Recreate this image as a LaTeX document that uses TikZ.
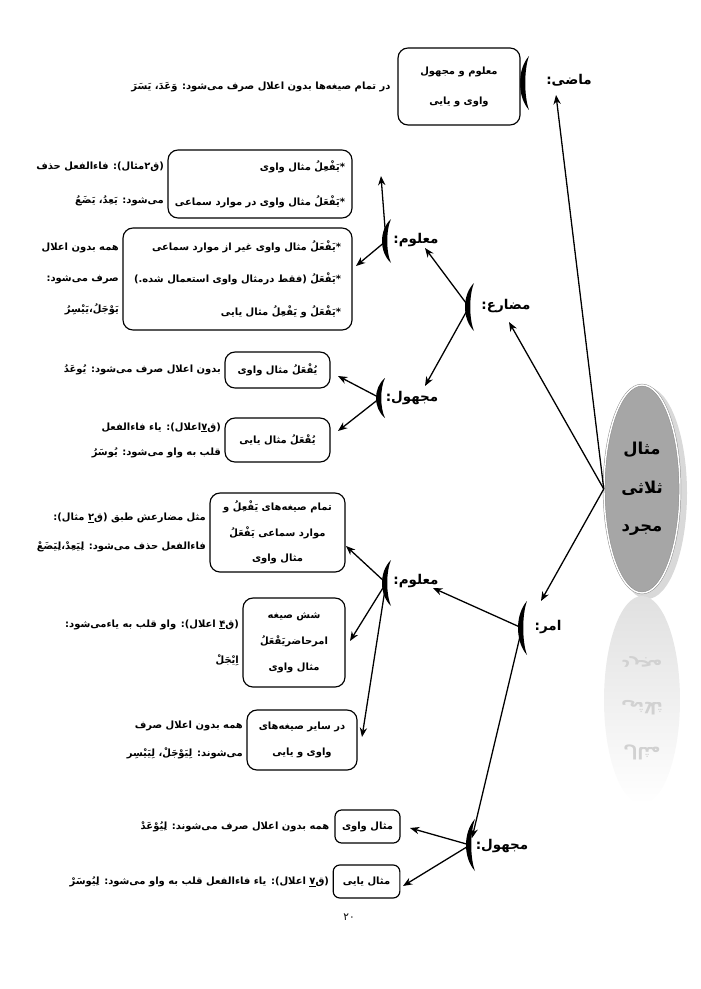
\documentclass[tikz,border=0pt]{standalone}
\usepackage{fontspec}
\newfontfamily\arabicfont[Script=Arabic]{DejaVu Sans}
\TeXXeTstate=1
\usetikzlibrary{positioning,arrows.meta,shapes.geometric}
\newcommand{\fa}[1]{\beginR #1\endR}

\begin{document}
\begin{tikzpicture}[
  x=0.3mm, y=-0.3mm,
  node distance=1mm,
  fatext/.style={font=\arabicfont\bfseries\fontsize{8.5}{10}\selectfont, inner sep=0pt},
  box/.style={fatext, draw, rounded corners=3mm, line width=1pt, align=center, fill=white},
  note/.style={fatext, align=right},
  lbl/.style={font=\arabicfont\bfseries\fontsize{11.5}{13}\selectfont, inner sep=0pt},
  core/.style={ellipse, minimum width=22.8mm, minimum height=62.4mm, inner sep=0pt, fill=black!35,
    draw=black!45, double=white, double distance=1.2pt, align=center,
    font=\arabicfont\bfseries\fontsize{14}{16}\selectfont},
  refl/.style={font=\arabicfont\bfseries\fontsize{14}{16}\selectfont, text=black!18, yscale=-1, transform shape},
  arr/.style={-{Stealth[length=2.8mm,width=2.2mm]}, line width=1.1pt},
  pics/brace/.style={code={\fill (5,-#1) .. controls (-7,-#1/2) and (-7,#1/2) .. (5,#1)
    .. controls (0,#1/2) and (0,-#1/2) .. cycle;}},
]
\useasboundingbox (0,0) rectangle (700,989);

\fill[black!15] (647,493) ellipse (40 and 106);
\shade[top color=black!12, bottom color=white] (642,700) ellipse (38 and 104);
\node[refl] (r1) at (642,662) {\fa{مجرد}};
\node[refl] (r2) at (642,708) {\fa{ثلاثی}};
\node[refl] (r3) at (642,752) {\fa{مثال}};
\node[core] (core) at (642,489) {\fa{مثال}\\[6mm]\fa{ثلاثی}\\[6mm]\fa{مجرد}};

\node[lbl] (lmadi) at (569,80) {\fa{ماضی:}};
\node[lbl] (lmoz) at (506,306) {\fa{مضارع:}};
\node[lbl] (lmmal) at (416,240) {\fa{معلوم:}};
\node[lbl] (lmmaj) at (412,398) {\fa{مجهول:}};
\node[lbl] (lamr) at (548,627) {\fa{امر:}};
\node[lbl] (lamal) at (416,581) {\fa{معلوم:}};
\node[lbl] (lamaj) at (502,846) {\fa{مجهول:}};

\coordinate (kmadi) at (524,83);
\coordinate (kmoz) at (469,307);
\coordinate (kmmal) at (386,241);
\coordinate (kmmaj) at (380,398);
\coordinate (kamr) at (522,628);
\coordinate (kamal) at (386,583);
\coordinate (kamaj) at (470,845);
\pic at (kmadi) {brace=27};
\pic at (kmoz) {brace=24};
\pic at (kmmal) {brace=22};
\pic at (kmmaj) {brace=20};
\pic at (kamr) {brace=27};
\pic at (kamal) {brace=23};
\pic at (kamaj) {brace=26};

\node[box, minimum width=36.6mm, minimum height=23.1mm] (bmadi) at (459,86.5)
  {\fa{معلوم و مجهول}\\[5.5mm]\fa{واوی و یایی}};
\node[note, left=2mm of bmadi] (nmadi) {\fa{در تمام صیغه‌ها بدون اعلال صرف می‌شود: وَعَدَ، یَسَرَ}};

\node[box, align=right, minimum width=55.2mm, minimum height=20.4mm] (bA) at (260,184)
  {\fa{*یَفْعِلُ  مثال واوی}\\[6.5mm]\fa{*یَفْعَلُ  مثال واوی در موارد سماعی}};
\node[note, left=of bA] (nA) {\fa{(ق۲مثال): فاءالفعل حذف}\\[6.5mm]\fa{می‌شود: یَعِدُ، یَضَعُ}};

\node[box, align=right, minimum width=68.7mm, minimum height=30.6mm] (bB) at (237.5,279)
  {\fa{*یَفْعَلُ مثال واوی غیر از موارد سماعی}\\[5.8mm]\fa{*یَفْعَلُ (فقط درمثال واوی استعمال شده.)}\\[5.8mm]\fa{*یَفْعَلُ و یَفْعِلُ مثال یایی}};
\node[note, left=of bB] (nB) {\fa{همه بدون اعلال}\\[5.8mm]\fa{صرف می‌شود:}\\[5.8mm]\fa{یَوْجَلُ،یَیْسِرُ}};

\node[box, minimum width=31.5mm, minimum height=10.8mm] (bC) at (277.5,370) {\fa{یُفْعَلُ مثال واوی}};
\node[note, left=of bC] (nC) {\fa{بدون اعلال صرف می‌شود: یُوعَدُ}};

\node[box, minimum width=31.5mm, minimum height=13.2mm] (bD) at (277.5,440) {\fa{یُفْعَلُ مثال یایی}};
\node[note, left=of bD] (nD) {\fa{(ق\underline{۷}اعلال): یاء فاءالفعل}\\[4mm]\fa{قلب به واو می‌شود: یُوسَرُ}};

\node[box, minimum width=40.5mm, minimum height=23.7mm] (bE) at (277.5,532.5)
  {\fa{تمام صیغه‌های یَفْعِلُ و}\\[4mm]\fa{موارد سماعی یَفْعَلُ}\\[4mm]\fa{مثال واوی}};
\node[note, left=of bE] (nE) {\fa{مثل مضارعش طبق (ق\underline{۲} مثال):}\\[5mm]\fa{فاءالفعل حذف می‌شود: لِیَعِدْ،لِیَضَعْ}};

\node[box, minimum width=30.6mm, minimum height=26.7mm] (bF) at (294,642.5)
  {\fa{شش صیغه}\\[4mm]\fa{امرحاضریَفْعَلُ}\\[4mm]\fa{مثال واوی}};
\node[note, left=of bF] (nF) {\fa{(ق\underline{۴} اعلال): واو قلب به یاءمی‌شود:}\\[7.5mm]\fa{اِیْجَلْ}\hspace{2.4mm}};

\node[box, minimum width=33mm, minimum height=18mm] (bG) at (302,740)
  {\fa{در سایر صیغه‌های}\\[4.5mm]\fa{واوی و یایی}};
\node[note, left=of bG] (nG) {\fa{همه بدون اعلال صرف}\\[5mm]\fa{می‌شوند: لِیَوْجَلْ، لِیَیْسِر}};

\node[box, rounded corners=2mm, minimum width=19.5mm, minimum height=9.9mm] (bH) at (367.5,826.5) {\fa{مثال واوی}};
\node[note, left=1.5mm of bH] (nH) {\fa{همه بدون اعلال صرف می‌شوند: لِیُوْعَدْ}};

\node[box, rounded corners=2mm, minimum width=20mm, minimum height=9.9mm] (bI) at (366.5,881.5) {\fa{مثال یایی}};
\node[note, left=of bI] (nI) {\fa{(ق\underline{۷} اعلال): یاء فاءالفعل قلب به واو می‌شود: لِیُوسَرْ}};

\node[lbl, font=\arabicfont\fontsize{9}{11}\selectfont] (page) at (349,917) {\fa{۲۰}};

\coordinate (tmadi) at (556,95);
\coordinate (tmoz) at (509,322);
\coordinate (tamr) at (541,601);
\coordinate (tmmal) at (425,248);
\coordinate (tmmaj) at (425,386);
\coordinate (tA) at (381,176);
\coordinate (tB) at (356,266);
\coordinate (tC) at (338,376);
\coordinate (tD) at (338,431);
\coordinate (tamal) at (433,588);
\coordinate (tamaj) at (472,838);
\coordinate (tE) at (346,546);
\coordinate (tF) at (350,641);
\coordinate (tG) at (362,737);
\coordinate (tH) at (410,828);
\coordinate (tI) at (403,886);

\draw[arr] (core.west) -- (tmadi);
\draw[arr] (core.west) -- (tmoz);
\draw[arr] (core.west) -- (tamr);
\draw[arr] (kmoz) -- (tmmal);
\draw[arr] (kmoz) -- (tmmaj);
\draw[arr] (kmmal) -- (tA);
\draw[arr] (kmmal) -- (tB);
\draw[arr] (kmmaj) -- (tC);
\draw[arr] (kmmaj) -- (tD);
\draw[arr] (kamr) -- (tamal);
\draw[arr] (kamr) -- (tamaj);
\draw[arr] (kamal) -- (tE);
\draw[arr] (kamal) -- (tF);
\draw[arr] (kamal) -- (tG);
\draw[arr] (kamaj) -- (tH);
\draw[arr] (kamaj) -- (tI);
\end{tikzpicture}
\end{document}
